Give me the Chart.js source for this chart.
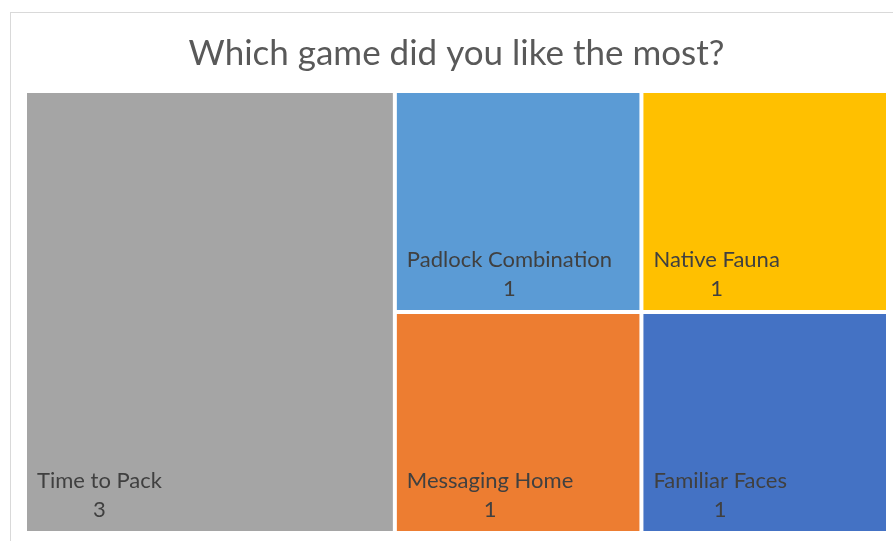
<!DOCTYPE html>
<html>
<head>
<meta charset="utf-8">
<script src="https://cdn.jsdelivr.net/npm/chart.js@4.4.0/dist/chart.umd.min.js"></script>
<style>
html, body { margin: 0; padding: 0; background: #fff; }
</style>
</head>
<body>
<canvas id="treeC" width="893" height="541"></canvas>
<script>
var games = ['Time to Pack', 'Padlock Combination', 'Messaging Home', 'Native Fauna', 'Familiar Faces'];
var votes = [3, 1, 1, 1, 1];
var tileColors = ['#A5A5A5', '#5B9BD5', '#ED7D31', '#FFC000', '#4472C4'];

function sum(a) { return a.reduce(function (s, v) { return s + v; }, 0); }

function worst(row, side) {
    var s = sum(row), mx = Math.max.apply(null, row), mn = Math.min.apply(null, row);
    return Math.max(side * side * mx / (s * s), s * s / (side * side * mn));
}

// squarified treemap in a box aspect x 1, returns rects in index order
function squarify(values, aspect) {
    var total = sum(values);
    var items = values.map(function (v, i) { return { i: i, a: v / total * aspect }; });
    var box = { x: 0, y: 0, w: aspect, h: 1 };
    var rects = [];
    while (items.length) {
        var side = Math.min(box.w, box.h);
        var row = [items[0]], k = 1;
        while (k < items.length) {
            var cur = row.map(function (r) { return r.a; });
            var next = cur.concat(items[k].a);
            if (worst(next, side) > worst(cur, side)) break;
            row.push(items[k]);
            k++;
        }
        items = items.slice(k);
        var s = sum(row.map(function (r) { return r.a; }));
        if (box.w >= box.h) {
            var t = s / box.h, y = box.y;
            row.forEach(function (r) {
                var h = r.a / t;
                rects[r.i] = { x: box.x, y: y, w: t, h: h };
                y += h;
            });
            box = { x: box.x + t, y: box.y, w: box.w - t, h: box.h };
        } else {
            var t2 = s / box.w, x = box.x;
            row.forEach(function (r) {
                var w = r.a / t2;
                rects[r.i] = { x: x, y: box.y, w: w, h: t2 };
                x += w;
            });
            box = { x: box.x, y: box.y + t2, w: box.w, h: box.h - t2 };
        }
    }
    return rects;
}

var treemapTiles = {
    id: 'treemapTiles',
    beforeDraw: function (chart) {
        var ctx = chart.ctx;
        ctx.save();
        ctx.strokeStyle = '#D9D9D9';
        ctx.lineWidth = 1;
        ctx.strokeRect(10.5, 12.5, 1000, 1000);
        ctx.restore();
    },
    beforeDatasetsDraw: function (chart) {
        var ctx = chart.ctx, area = chart.chartArea;
        var xs = chart.scales.x, ys = chart.scales.y;
        var aspect = (area.right - area.left) / (area.bottom - area.top);
        var rects = squarify(votes, aspect);
        var gap = 2;
        ctx.save();
        rects.forEach(function (r, i) {
            var l = xs.getPixelForValue(r.x / aspect) + gap;
            var rt = xs.getPixelForValue((r.x + r.w) / aspect) - gap;
            var t = ys.getPixelForValue(r.y) + gap;
            var b = ys.getPixelForValue(r.y + r.h) - gap;
            ctx.fillStyle = tileColors[i];
            ctx.fillRect(l, t, rt - l, b - t);

            ctx.font = '22px Lato';
            ctx.fillStyle = '#404040';
            ctx.textBaseline = 'alphabetic';
            ctx.textAlign = 'left';
            var lw = ctx.measureText(games[i]).width;
            ctx.fillText(games[i], l + 10, b - 43);
            ctx.textAlign = 'center';
            ctx.fillText(String(votes[i]), l + 10 + lw / 2, b - 14);
        });
        ctx.restore();
    }
};

new Chart(document.getElementById('treeC'), {
    type: 'scatter',
    data: { datasets: [{ data: [] }] },
    options: {
        responsive: false,
        animation: false,
        layout: { padding: { left: 25, right: 5, top: 0, bottom: 8 } },
        scales: {
            x: { display: false, min: 0, max: 1 },
            y: { display: false, min: 0, max: 1, reverse: true }
        },
        plugins: {
            legend: { display: false },
            tooltip: { enabled: false },
            title: {
                display: true,
                text: 'Which game did you like the most?',
                color: '#595959',
                font: { family: 'Lato', size: 35, weight: 'normal' },
                padding: { top: 33, bottom: 16 }
            }
        }
    },
    plugins: [treemapTiles]
});
</script>
</body>
</html>
